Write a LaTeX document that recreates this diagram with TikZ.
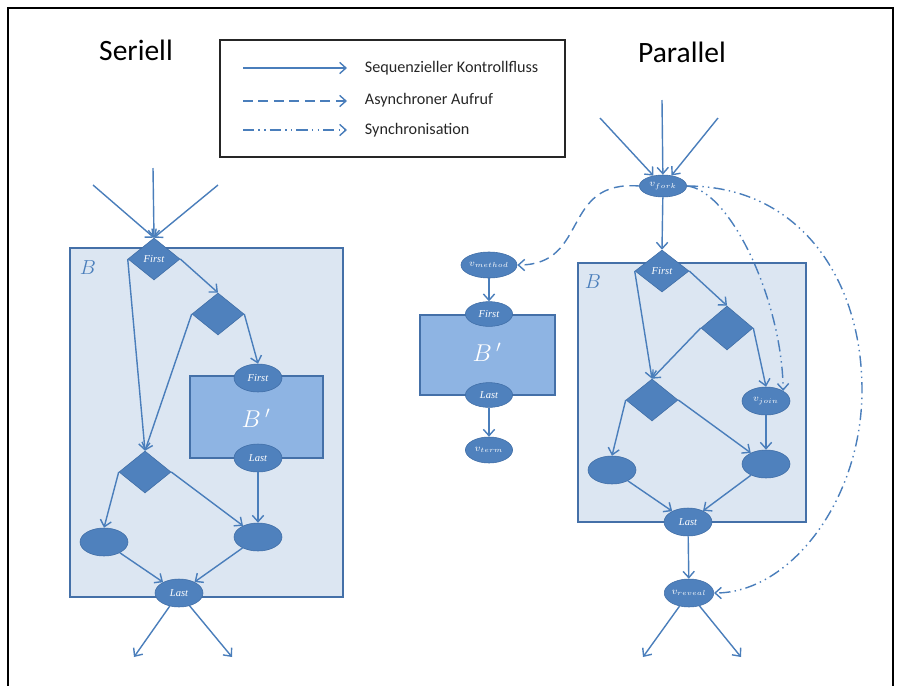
\documentclass[tikz,border=0pt]{standalone}
\usepackage{fontspec}
\setmainfont{Carlito}
\newfontfamily\statefamily{Liberation Serif}
\usepackage{xcolor}
\usepackage{tikz}
\usetikzlibrary{arrows.meta}
\usetikzlibrary{shapes.geometric}

\definecolor{nodefill}{HTML}{4F81BD}
\definecolor{nodeline}{HTML}{3F6DA6}
\definecolor{flowblue}{HTML}{4A7EBB}
\definecolor{blockfill}{HTML}{DCE6F2}
\definecolor{blockline}{HTML}{4470A8}
\definecolor{innerfill}{HTML}{8EB4E3}
\newcommand{\statefont}{\statefamily\itshape\fontsize{7.5}{8}\selectfont}

\begin{document}
\begin{tikzpicture}[
      x=0.025cm, y=-0.025cm,
      type-branch/.style={diamond, draw=nodeline, fill=nodefill, thin, inner sep=0pt, minimum width=1.3cm, minimum height=1.05cm, text=white, font=\statefont},
      type-state/.style={ellipse, draw=nodeline, fill=nodefill, thin, inner sep=0pt, minimum width=1.2cm, minimum height=0.7cm, text=white, font=\statefont},
      type-block/.style={draw=blockline, fill=blockfill, line width=0.9pt},
      type-inner/.style={draw=blockline, fill=innerfill, line width=0.9pt},
      label-block/.style={text=flowblue, font=\fontsize{14}{16}\selectfont},
      label-inner/.style={text=white, font=\fontsize{17}{19}\selectfont},
      type-title/.style={font=\fontsize{21}{24}\selectfont},
      type-legend/.style={anchor=west, font=\fontsize{11.5}{13}\selectfont, text=black!85},
      flow-seq/.style={draw=flowblue, line width=1pt, -{Straight Barb[length=4.5pt, width=8pt]}},
      flow-async/.style={flow-seq, dash pattern=on 7pt off 4pt},
      flow-sync/.style={flow-seq, dash pattern=on 8pt off 3pt on 1pt off 3pt on 1pt off 3pt}
    ]
      \useasboundingbox (0,0) rectangle (904,686);
      \draw[line width=2pt] (8,700) -- (8,8) -- (893,8) -- (893,700);

      \node[type-title] (titleL) at (136,50) {Seriell};
      \node[type-title] (titleR) at (682,52) {Parallel};

      \draw[line width=1.2pt, draw=black!85] (220,40) rectangle (565,157);
      \coordinate (seqA) at (243,68);
      \coordinate (seqB) at (347,68);
      \coordinate (asyncA) at (243,101);
      \coordinate (asyncB) at (347,101);
      \coordinate (syncA) at (243,130);
      \coordinate (syncB) at (347,130);
      \draw[flow-seq] (seqA) -- (seqB);
      \draw[flow-async] (asyncA) -- (asyncB);
      \draw[flow-sync] (syncA) -- (syncB);
      \node[type-legend] (legSeq) at (360,68) {Sequenzieller Kontrollfluss};
      \node[type-legend] (legAsync) at (360,100) {Asynchroner Aufruf};
      \node[type-legend] (legSync) at (360,130) {Synchronisation};

      \draw[type-block] (70,248) rectangle (343,597);
      \node[label-block] (labBL) at (88,268) {$B$};
      \draw[type-inner] (190,376) rectangle (323,458);
      \node[label-inner] (labBpL) at (256,418) {$B\,'$};

      \node[type-branch] (firstL) at (154,259) {First};
      \node[type-branch] (splitL) at (218,314) {};
      \node[type-state] (firstInL) at (258,378) {First};
      \node[type-state] (lastInL) at (258,458) {Last};
      \node[type-branch] (mergeL) at (145,472) {};
      \node[type-state] (leftL) at (104,542) {};
      \node[type-state] (rightL) at (258,537) {};
      \node[type-state] (lastL) at (179,593) {Last};
      \coordinate (inL1) at (93,185);
      \coordinate (inL2) at (153,168);
      \coordinate (inL3) at (218,185);
      \coordinate (outL1) at (134,657);
      \coordinate (outL2) at (232,657);

      \draw[flow-seq] (inL1) -- (firstL.north);
      \draw[flow-seq] (inL2) -- (firstL.north);
      \draw[flow-seq] (inL3) -- (firstL.north);
      \draw[flow-seq] (firstL.west) -- (mergeL.north);
      \draw[flow-seq] (firstL.east) -- (splitL.north);
      \draw[flow-seq] (splitL.west) -- (mergeL.north);
      \draw[flow-seq] (splitL.east) -- (firstInL.north);
      \draw[flow-seq] (lastInL) -- (rightL);
      \draw[flow-seq] (mergeL.west) -- (leftL.north);
      \draw[flow-seq] (mergeL.east) -- (rightL);
      \draw[flow-seq] (leftL) -- (lastL);
      \draw[flow-seq] (rightL) -- (lastL);
      \draw[flow-seq] (lastL) -- (outL1);
      \draw[flow-seq] (lastL) -- (outL2);

      \node[type-state, minimum width=1.15cm, minimum height=0.65cm] (vmethod) at (489,265) {$v_{method}$};
      \draw[type-inner] (420,315) rectangle (555,395);
      \node[label-inner] (labBpM) at (487,352) {$B\,'$};
      \node[type-state, minimum width=1.18cm, minimum height=0.62cm] (firstM) at (489,314) {First};
      \node[type-state, minimum width=1.18cm, minimum height=0.62cm] (lastM) at (489,395) {Last};
      \node[type-state, minimum width=1.18cm, minimum height=0.65cm] (vterm) at (489,450) {$v_{term}$};
      \draw[flow-seq] (vmethod) -- (firstM);
      \draw[flow-seq] (lastM) -- (vterm);

      \node[type-state, minimum width=1.18cm, minimum height=0.55cm] (vfork) at (663,186) {$v_{fork}$};
      \draw[type-block] (578,263) rectangle (806,522);
      \node[label-block] (labBR) at (593,282) {$B$};
      \node[type-branch, minimum width=1.35cm] (firstR) at (662,271) {First};
      \node[type-branch, minimum height=1.1cm] (splitR) at (727,328) {};
      \node[type-branch] (mergeR) at (652,400) {};
      \node[type-state] (vjoin) at (766,401) {$v_{join}$};
      \node[type-state] (leftR) at (612,470) {};
      \node[type-state] (rightR) at (766,464) {};
      \node[type-state] (lastR) at (688,522) {Last};
      \node[type-state] (vreveal) at (689,593) {$v_{reveal}$};
      \coordinate (inR1) at (600,118);
      \coordinate (inR2) at (662,100);
      \coordinate (inR3) at (718,118);
      \coordinate (outR1) at (643,657);
      \coordinate (outR2) at (741,657);

      \draw[flow-seq] (inR1) -- (vfork);
      \draw[flow-seq] (inR2) -- (vfork);
      \draw[flow-seq] (inR3) -- (vfork);
      \draw[flow-seq] (vfork) -- (firstR.north);
      \draw[flow-seq] (firstR.west) -- (mergeR.north);
      \draw[flow-seq] (firstR.east) -- (splitR.north);
      \draw[flow-seq] (splitR.west) -- (mergeR.north);
      \draw[flow-seq] (splitR.east) -- (vjoin.north);
      \draw[flow-seq] (mergeR.west) -- (leftR.north);
      \draw[flow-seq] (mergeR.east) -- (rightR);
      \draw[flow-seq] (vjoin) -- (rightR);
      \draw[flow-seq] (leftR) -- (lastR);
      \draw[flow-seq] (rightR) -- (lastR);
      \draw[flow-seq] (lastR) -- (vreveal);
      \draw[flow-seq] (vreveal) -- (outR1);
      \draw[flow-seq] (vreveal) -- (outR2);

      \draw[flow-async] (vfork.west) .. controls (560,180) and (590,265) .. (vmethod.east);
      \draw[flow-sync] (vfork.east) .. controls (730,190) and (782,300) .. (vjoin.north east);
      \draw[flow-sync] (vfork.east) .. controls (800,186) and (862,280) .. (862,390) .. controls (862,500) and (790,593) .. (vreveal.east);
    \end{tikzpicture}
\end{document}
